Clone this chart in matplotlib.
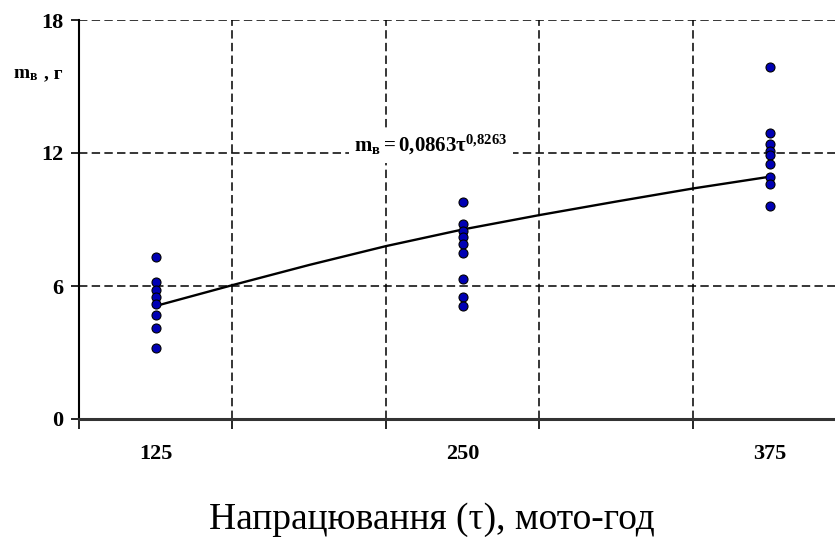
import numpy as np
import matplotlib.pyplot as plt
from matplotlib.ticker import FixedLocator, NullFormatter

plt.rcParams['font.family'] = ['Liberation Serif', 'DejaVu Serif']
plt.rcParams['mathtext.fontset'] = 'custom'
plt.rcParams['mathtext.rm'] = 'Liberation Serif'
plt.rcParams['mathtext.it'] = 'Liberation Serif'
plt.rcParams['mathtext.bf'] = 'Liberation Serif:bold'

tau125 = [7.3, 6.2, 5.8, 5.5, 5.2, 4.7, 4.1, 3.2]
tau250 = [9.8, 8.8, 8.5, 8.2, 7.9, 7.5, 6.3, 5.5, 5.1]
tau375 = [15.9, 12.9, 12.4, 12.1, 11.9, 11.5, 10.9, 10.6, 9.6]

# trend line as drawn in the picture
fitX = [125, 156.25, 187.5, 218.75, 250, 281.25, 312.5, 343.75, 375]
fitY = [5.1, 6.04, 6.95, 7.8, 8.55, 9.2, 9.81, 10.4, 10.93]

xLabels = [125, 250, 375]
gridX = [93.75, 156.25, 218.75, 281.25, 343.75]
yTicks = [0, 6, 12, 18]

fig = plt.figure(figsize=(8.35, 5.37), dpi=100)
ax = fig.add_axes([79/835, 1-419/537, 1-79/835, (419-20)/537])

dash = (0, (5.5, 2.8))
for gx in gridX[1:]:
	ax.axvline(gx, color='black', lw=1.1, ls=dash, zorder=1)
for gy in yTicks[1:]:
	ax.axhline(gy, color='black', lw=1.1, ls=dash, zorder=1)

ax.plot(fitX, fitY, color='black', lw=1.7, zorder=2)

for x, vals in zip(xLabels, [tau125, tau250, tau375]):
	ax.scatter([x]*len(vals), vals, s=42, color='#0000b4', edgecolor='black',
		linewidth=0.8, zorder=3)

ax.text(237, 12.35, r'$\mathbf{m_{в}=0{,}0863τ^{0{,}8263}}$', fontsize=15,
	ha='center', va='center', zorder=4,
	bbox=dict(facecolor='white', edgecolor='none', pad=4))

ax.set_xlim(93.75, 93.75 + 756/307*125)
ax.set_ylim(0, 18)

ax.spines['top'].set_visible(False)
ax.spines['right'].set_visible(False)
ax.spines['left'].set_linewidth(1.5)
ax.spines['bottom'].set_linewidth(2.2)
ax.spines['bottom'].set_color('#333333')
ax.spines['left'].set_zorder(5)
ax.spines['bottom'].set_zorder(5)

ax.xaxis.set_major_locator(FixedLocator(gridX))
ax.xaxis.set_major_formatter(NullFormatter())
ax.xaxis.set_minor_locator(FixedLocator(xLabels))
ax.set_xticklabels([str(v) for v in xLabels], minor=True, fontweight='bold', fontsize=16)
ax.tick_params(axis='x', which='major', length=7, width=1.2, direction='out')
ax.tick_params(axis='x', which='minor', length=0, pad=18)

ax.set_yticks(yTicks)
ax.set_yticklabels([str(v) for v in yTicks], fontweight='bold', fontsize=16)
ax.tick_params(axis='y', length=6, width=1.2, direction='out', pad=5)

fig.text(13/835, 1-74/537, r'$\mathbf{m_{в}}$', fontsize=14, va='center', ha='left')
fig.text(44/835, 1-74/537, ', г', fontsize=14, fontweight='bold', va='center', ha='left')

fig.text(432/835, 1-529/537, 'Напрацювання (τ), мото-год', fontsize=27,
	ha='center', va='baseline')

fig.savefig('out.png', dpi=100)
